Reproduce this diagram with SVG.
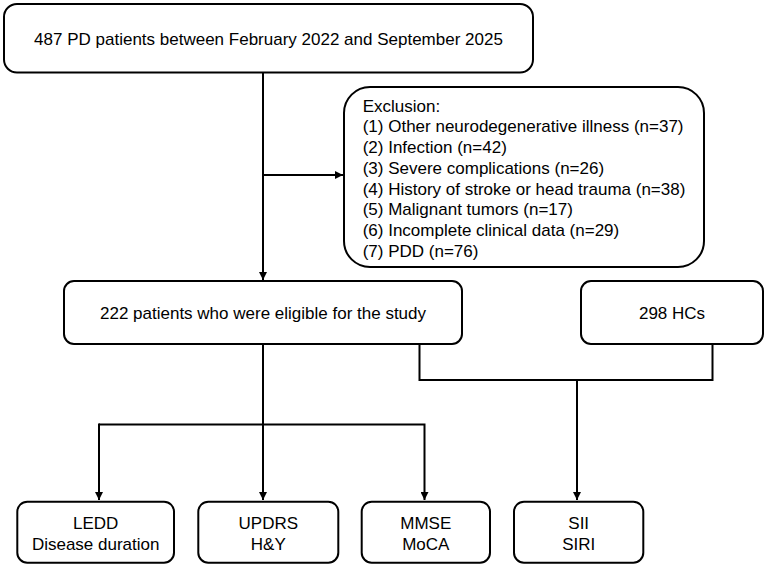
<svg xmlns="http://www.w3.org/2000/svg" width="767" height="567" viewBox="0 0 767 567">
  <style>
    .box { fill: #ffffff; stroke: #000000; stroke-width: 2; }
    .t { font-family: "Liberation Sans", Arial, sans-serif; font-size: 17px; fill: #000000; }
    .c { text-anchor: middle; }
    .ln { fill: none; stroke: #000000; stroke-width: 2; }
  </style>
  <defs>
    <marker id="arr" viewBox="0 0 10 10" refX="10" refY="5" markerWidth="4" markerHeight="4" orient="auto" markerUnits="strokeWidth">
      <path d="M0,0 L10,5 L0,10 Z" fill="#000000"/>
    </marker>
  </defs>
  <rect width="767" height="567" fill="#ffffff"/>

  <g id="connectors">
    <line class="ln" x1="263" y1="72.5" x2="263" y2="280" marker-end="url(#arr)"/>
    <line class="ln" x1="263" y1="175" x2="343" y2="175" marker-end="url(#arr)"/>
    <line class="ln" x1="263" y1="344" x2="263" y2="500" marker-end="url(#arr)"/>
    <polyline class="ln" points="99,424.5 424.5,424.5 424.5,500" marker-end="url(#arr)"/>
    <line class="ln" x1="99" y1="423.5" x2="99" y2="500" marker-end="url(#arr)"/>
    <polyline class="ln" points="419.5,344 419.5,380 712.5,380 712.5,344"/>
    <line class="ln" x1="577" y1="380" x2="577" y2="500" marker-end="url(#arr)"/>
  </g>

  <g id="node-top">
    <rect class="box" x="4" y="4" width="529" height="68.5" rx="13"/>
    <text class="t c" x="268.5" y="44.5">487 PD patients between February 2022 and September 2025</text>
  </g>

  <g id="node-exclusion">
    <rect class="box" x="344" y="87" width="360" height="180" rx="26"/>
    <text class="t" x="362.7" y="111.7">Exclusion:</text>
    <text class="t" x="362.7" y="132.4">(1) Other neurodegenerative illness (n=37)</text>
    <text class="t" x="362.7" y="153.1">(2) Infection (n=42)</text>
    <text class="t" x="362.7" y="173.8">(3) Severe complications (n=26)</text>
    <text class="t" x="362.7" y="194.5">(4) History of stroke or head trauma (n=38)</text>
    <text class="t" x="362.7" y="215.2">(5) Malignant tumors (n=17)</text>
    <text class="t" x="362.7" y="235.9">(6) Incomplete clinical data (n=29)</text>
    <text class="t" x="362.7" y="256.6">(7) PDD (n=76)</text>
  </g>

  <g id="node-eligible">
    <rect class="box" x="64" y="281" width="398" height="63" rx="10"/>
    <text class="t c" x="263" y="319.3">222 patients who were eligible for the study</text>
  </g>

  <g id="node-hc">
    <rect class="box" x="581" y="281" width="182" height="63" rx="10"/>
    <text class="t c" x="672" y="319.3">298 HCs</text>
  </g>

  <g id="node-ledd">
    <rect class="box" x="17.3" y="501.7" width="156.7" height="61" rx="10"/>
    <text class="t c" x="95.7" y="529.3">LEDD</text>
    <text class="t c" x="95.7" y="549.8">Disease duration</text>
  </g>

  <g id="node-updrs">
    <rect class="box" x="198.3" y="501.7" width="140" height="61" rx="10"/>
    <text class="t c" x="268.3" y="529.3">UPDRS</text>
    <text class="t c" x="268.3" y="549.8">H&amp;Y</text>
  </g>

  <g id="node-mmse">
    <rect class="box" x="361.7" y="501.7" width="128.3" height="61" rx="10"/>
    <text class="t c" x="425.8" y="529.3">MMSE</text>
    <text class="t c" x="425.8" y="549.8">MoCA</text>
  </g>

  <g id="node-sii">
    <rect class="box" x="514" y="501.7" width="129.3" height="61" rx="10"/>
    <text class="t c" x="578.7" y="529.3">SII</text>
    <text class="t c" x="578.7" y="549.8">SIRI</text>
  </g>
</svg>
